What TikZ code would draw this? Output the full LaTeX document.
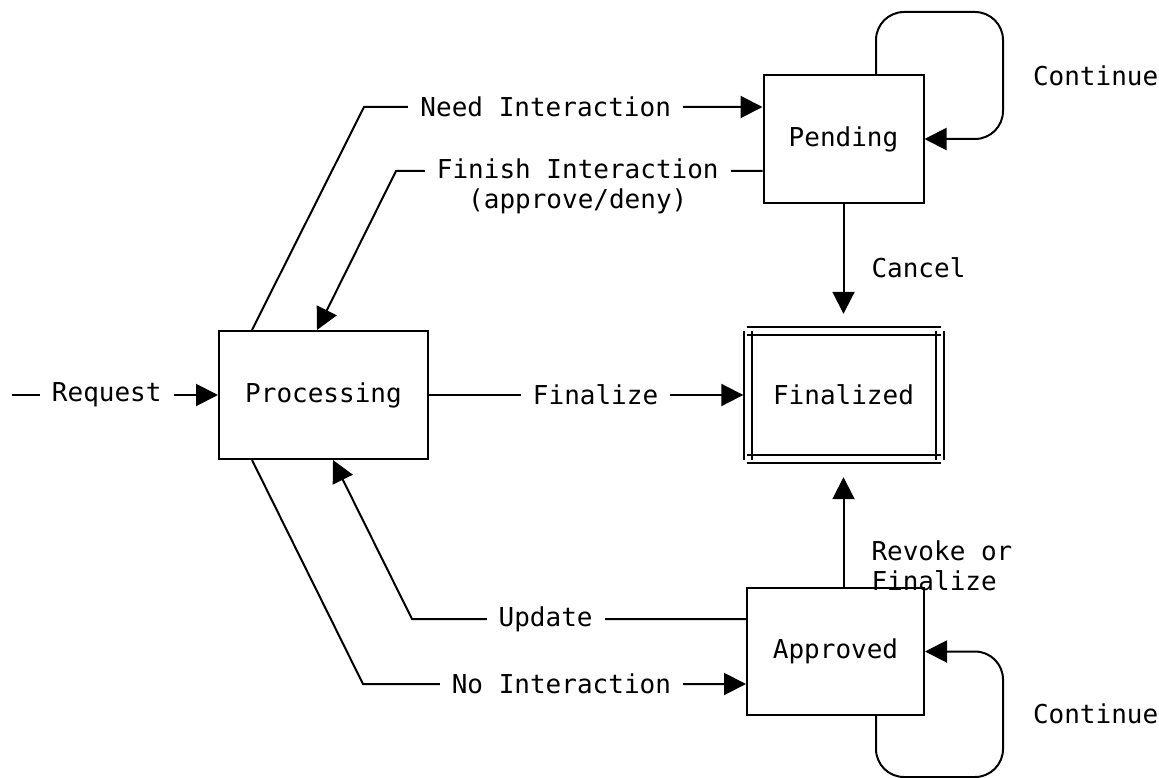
\documentclass[tikz,border=0pt]{standalone}
\usepackage{fontspec}
\setmonofont{DejaVu Sans Mono}
\usetikzlibrary{arrows.meta,calc}
\begin{document}
\begin{tikzpicture}[x=1pt,y=-1pt,
  every node/.style={font=\ttfamily\fontsize{26}{30}\selectfont},
  state/.style={draw, line width=2pt, inner sep=0pt},
  conn/.style={line width=2pt},
  arr/.style={conn, -{Triangle[length=22pt,width=22pt]}},
  lbl/.style={fill=white, inner xsep=12pt, inner ysep=2pt},
  side/.style={anchor=west, inner sep=0pt, xshift=27pt}
]
\useasboundingbox (0,0) rectangle (1159,778);

% states
\node[state, minimum width=209pt, minimum height=128pt] (proc) at (323.5,395) {Processing};
\node[state, minimum width=160pt, minimum height=128pt] (pend) at (843.5,139) {Pending};
\node[state, minimum width=177pt, minimum height=127pt] (appr) at (835.5,651.5) {Approved};
\node[minimum width=200pt, minimum height=136pt, inner sep=0pt] (fin) at (843.5,395) {Finalized};

% double frame of Finalized
\foreach \dy in {-68,-60,60,68}
  \draw[conn] ($(fin.center)+(-97,\dy)$) -- ($(fin.center)+(97,\dy)$);
\foreach \dx in {-100,-92,92,100}
  \draw[conn] ($(fin.center)+(\dx,-64.5)$) -- ($(fin.center)+(\dx,64.5)$);

% Request
\coordinate (reqs) at (12,395);
\draw[arr] (reqs) -- node[lbl,pos=0.46]{Request} (proc.west);

% Finalize
\draw[arr] (proc.east) -- node[lbl,pos=0.53]{Finalize} (fin.west);

% Need Interaction
\coordinate (needc) at (364,107);
\draw[arr] ([xshift=-71.5pt]proc.north) -- (needc) -- node[lbl,pos=0.456]{Need Interaction} (needc -| pend.west);

% Finish Interaction
\coordinate (finc) at (396,171);
\draw[arr] (pend.west |- finc) -- node[lbl,pos=0.504,align=center,yshift=-15pt]{Finish Interaction\\(approve/deny)} (finc) -- ([xshift=-6.5pt]proc.north);

% Update
\coordinate (updc) at (412,619);
\draw[arr] (appr.west |- updc) -- node[lbl,pos=0.6]{Update} (updc) -- ([xshift=9.5pt]proc.south);

% No Interaction
\coordinate (noc) at (363,684);
\draw[arr] ([xshift=-71.5pt]proc.south) -- (noc) -- node[lbl,pos=0.518]{No Interaction} (noc -| appr.west);

% Cancel
\draw[arr] (pend.south) -- node[side,pos=0.585]{Cancel} ([yshift=13pt]fin.north);

% Revoke or Finalize
\draw[arr] (appr.north -| fin.south) -- node[side,pos=0.19,align=left]{Revoke or\\Finalize} ([yshift=-14pt]fin.south);

% Pending loop
\coordinate (lp1) at (876,12);
\coordinate (lp2) at (1003,12);
\draw[arr, rounded corners=28pt] (lp1 |- pend.north) -- (lp1) -- (lp2) -- node[side,xshift=2pt]{Continue} (lp2 |- pend.east) -- (pend.east);

% Approved loop
\coordinate (la1) at (876,777);
\coordinate (la2) at (1003,777);
\draw[arr, rounded corners=28pt] (la1 |- appr.south) -- (la1) -- (la2) -- node[side,xshift=2pt]{Continue} (la2 |- appr.east) -- (appr.east);
\end{tikzpicture}
\end{document}
